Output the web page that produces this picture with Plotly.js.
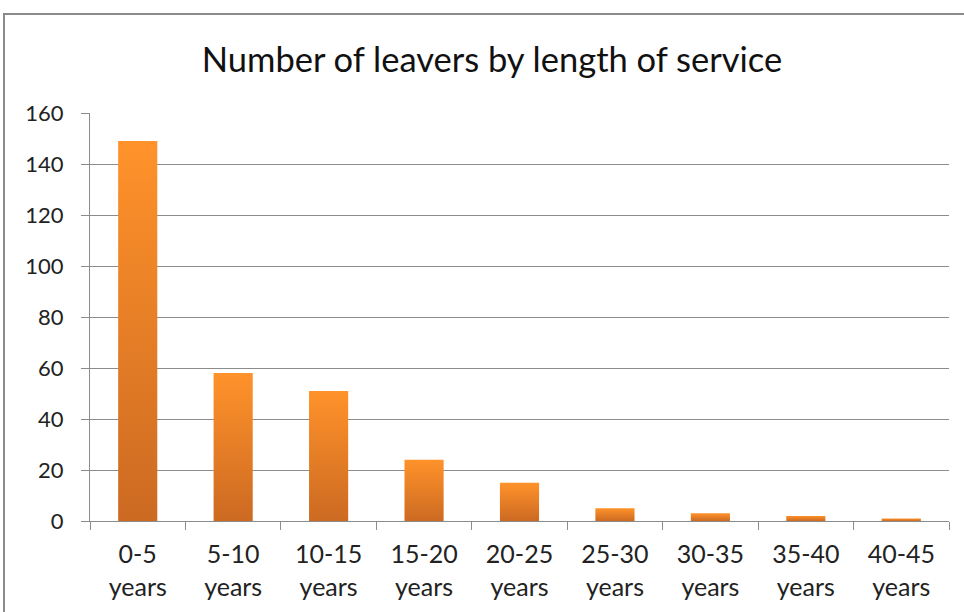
<!DOCTYPE html>
<html>
<head>
<meta charset="utf-8">
<script src="https://cdn.plot.ly/plotly-3.0.1.min.js"></script>
<style>
  html, body { margin: 0; padding: 0; background: #fff; }
  #wrap { position: relative; width: 964px; height: 612px; overflow: hidden; }
  #chart { width: 964px; height: 612px; }
  #frame { position: absolute; left: 3px; top: 13px; width: 980px; height: 640px;
           border-top: 2px solid #8a8a8a; border-left: 2px solid #8a8a8a; pointer-events: none; }
</style>
</head>
<body>
<div id="wrap">
  <div id="chart"></div>
  <div id="frame"></div>
</div>
<script>
const categories = ["0-5<br>years", "5-10<br>years", "10-15<br>years", "15-20<br>years", "20-25<br>years",
                    "25-30<br>years", "30-35<br>years", "35-40<br>years", "40-45<br>years"];
const leavers = [149, 58, 51, 24, 15, 5, 3, 2, 1];
const yTicks = [0, 20, 40, 60, 80, 100, 120, 140, 160];

const FONT = "Lato, 'Open Sans', sans-serif";

const trace = {
  type: "bar",
  x: categories,
  y: leavers,
  marker: { color: "#E8802A", line: { width: 0 } },
  hoverinfo: "skip"
};

const layout = {
  width: 964, height: 612,
  margin: { l: 90, r: 15, t: 113, b: 91 },
  paper_bgcolor: "#ffffff",
  plot_bgcolor: "#ffffff",
  showlegend: false,
  bargap: 0.59,
  title: {
    text: "Number of leavers by length of service",
    font: { family: FONT, size: 34.5, color: "#111111" },
    x: 492 / 964, xanchor: "center", xref: "container",
    y: 1 - 60 / 612, yanchor: "middle", yref: "container"
  },
  xaxis: {
    type: "category",
    showgrid: false,
    showline: true, linecolor: "#8c8c8c", linewidth: 1,
    ticks: "outside", tickson: "boundaries", ticklen: 8, tickcolor: "#8c8c8c", tickwidth: 1,
    tickfont: { family: FONT, size: 25, color: "#222222" },
    ticklabelstandoff: 11,
    zeroline: false
  },
  yaxis: {
    range: [0, 160],
    tickvals: yTicks,
    ticktext: yTicks.map(String),
    showgrid: true, gridcolor: "#8c8c8c", gridwidth: 1,
    showline: true, linecolor: "#8c8c8c", linewidth: 1,
    ticks: "outside", ticklen: 8, tickcolor: "#8c8c8c", tickwidth: 1,
    tickfont: { family: FONT, size: 22, color: "#222222" },
    zeroline: false,
    ticklabelstandoff: 13
  }
};

Plotly.newPlot("chart", [trace], layout, { staticPlot: true, displayModeBar: false }).then(function () {
  const svg = document.querySelector("#chart svg.main-svg");
  const ns = "http://www.w3.org/2000/svg";
  let defs = svg.querySelector("defs");
  if (!defs) { defs = document.createElementNS(ns, "defs"); svg.insertBefore(defs, svg.firstChild); }
  const grad = document.createElementNS(ns, "linearGradient");
  grad.setAttribute("id", "barGrad");
  grad.setAttribute("x1", "0"); grad.setAttribute("y1", "0");
  grad.setAttribute("x2", "0"); grad.setAttribute("y2", "1");
  const s1 = document.createElementNS(ns, "stop");
  s1.setAttribute("offset", "0"); s1.setAttribute("stop-color", "#FF922A");
  const s2 = document.createElementNS(ns, "stop");
  s2.setAttribute("offset", "1"); s2.setAttribute("stop-color", "#CC6A22");
  grad.appendChild(s1); grad.appendChild(s2);
  defs.appendChild(grad);
  document.querySelectorAll("#chart .trace.bars .point path").forEach(function (p) {
    p.style.fill = "url(#barGrad)";
  });
});
</script>
</body>
</html>
